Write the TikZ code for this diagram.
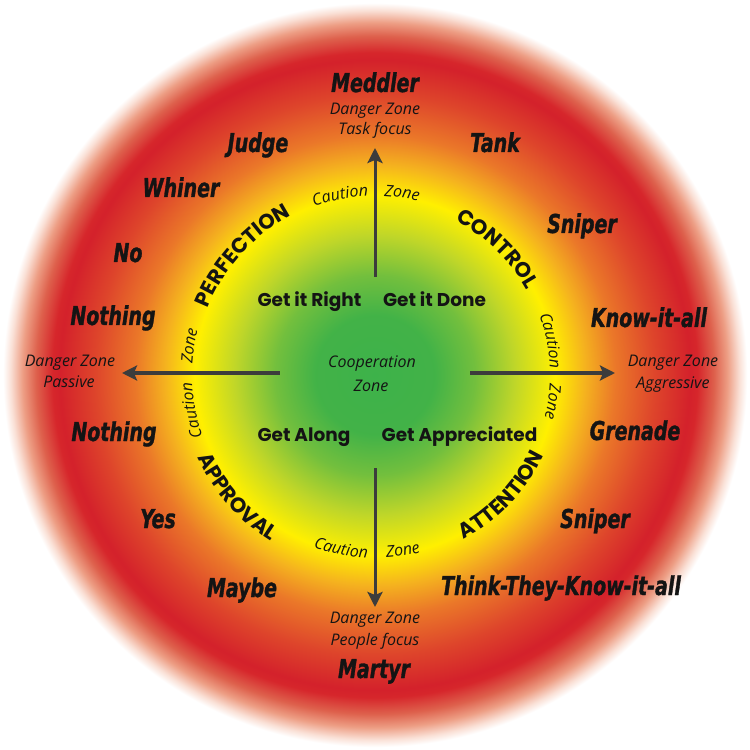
\documentclass[tikz,border=0pt]{standalone}
\usepackage{fontspec}
\usetikzlibrary{arrows.meta,decorations.text}
\newfontfamily\labfont{DejaVu Sans}[FakeStretch=0.73,BoldItalicFeatures={FakeBold=1.2}]
\newfontfamily\popfont{Poppins}
\newfontfamily\gillfont{Open Sans}
\definecolor{txt}{RGB}{20,20,20}
\definecolor{arrowgray}{RGB}{60,60,60}
\newcommand\arcfont{\popfont\bfseries\fontsize{21bp}{21bp}\selectfont}
\newcommand\cfont{\gillfont\itshape\fontsize{16bp}{16bp}\selectfont}
\pgfdeclareradialshading{zones}{\pgfpointorigin}{%
 rgb(0bp)=(0.24,0.70,0.29);
 rgb(4bp)=(0.26,0.70,0.28);
 rgb(6.667bp)=(0.45,0.75,0.24);
 rgb(9.333bp)=(0.75,0.84,0.16);
 rgb(12bp)=(1.0,0.94,0.0);
 rgb(14bp)=(0.96,0.70,0.12);
 rgb(16bp)=(0.92,0.47,0.16);
 rgb(18.667bp)=(0.87,0.27,0.17);
 rgb(21bp)=(0.83,0.13,0.17);
 rgb(21.5bp)=(0.84,0.15,0.17);
 rgb(22.6bp)=(0.87,0.38,0.30);
 rgb(23.5bp)=(0.93,0.62,0.52);
 rgb(24.3bp)=(0.98,0.88,0.84);
 rgb(24.8bp)=(1,1,1);
 rgb(50bp)=(1,1,1)}
\tikzset{
 typelbl/.style={font=\labfont\bfseries\itshape\fontsize{26bp}{26bp}\selectfont, text=txt, anchor=base, inner sep=0pt},
 innerlbl/.style={font=\popfont\bfseries\fontsize{18.5bp}{18.5bp}\selectfont, text=txt, anchor=base, inner sep=0pt},
 smalllbl/.style={font=\cfont, text=txt, anchor=base, inner sep=0pt},
 axisarrow/.style={draw=arrowgray, line width=3bp, -{Stealth[length=15bp,width=15bp,inset=3bp]}},
 arctext/.style={decorate, decoration={text along path, text align=center, text color=txt, text={#1}}}
}
\begin{document}
\begin{tikzpicture}[x=1bp,y=1bp]
\useasboundingbox (-375,-375) rectangle (375,375);
\fill[white] (-375,-375) rectangle (375,375);
\shade[shading=zones] (0,0) circle[radius=375bp];

% axes
\coordinate (topS) at (0,98); \coordinate (topE) at (0,227);
\coordinate (leftS) at (-95,2); \coordinate (leftE) at (-253,2);
\coordinate (rightS) at (95,2); \coordinate (rightE) at (240,2);
\coordinate (botS) at (0,-93); \coordinate (botE) at (0,-232);
\draw[axisarrow] (topS) -- (topE);
\draw[axisarrow] (leftS) -- (leftE);
\draw[axisarrow] (rightS) -- (rightE);
\draw[axisarrow] (botS) -- (botE);

% curved style labels
\path[arctext={|\arcfont|PERFECTION}] (160:180bp) arc[start angle=160, end angle=116, radius=180bp];
\path[arctext={|\arcfont|CONTROL}] (70:174bp) arc[start angle=70, end angle=22, radius=174bp];
\path[arctext={|\arcfont|APPROVAL}] (199:196bp) arc[start angle=199, end angle=244, radius=196bp];
\path[arctext={|\arcfont|ATTENTION}] (294:187bp) arc[start angle=294, end angle=339, radius=187bp];

% caution zone labels
\path[arctext={|\cfont|Caution}] (115:179bp) arc[start angle=115, end angle=87, radius=179bp];
\path[arctext={|\cfont|Zone}] (95:179bp) arc[start angle=95, end angle=68, radius=179bp];
\path[arctext={|\cfont|Caution}] (25:175bp) arc[start angle=25, end angle=-3, radius=175bp];
\path[arctext={|\cfont|Zone}] (5:175bp) arc[start angle=5, end angle=-22, radius=175bp];
\path[arctext={|\cfont|Zone}] (185:183bp) arc[start angle=185, end angle=157, radius=183bp];
\path[arctext={|\cfont|Caution}] (205:183bp) arc[start angle=205, end angle=177, radius=183bp];
\path[arctext={|\cfont|Caution}] (245:183bp) arc[start angle=245, end angle=273, radius=183bp];
\path[arctext={|\cfont|Zone}] (265:183bp) arc[start angle=265, end angle=293, radius=183bp];

% inner labels
\node[innerlbl] (right) at (-65.5,68) {Get it Right};
\node[innerlbl] (done) at (59.5,68) {Get it Done};
\node[innerlbl] (along) at (-71,-66) {Get Along};
\node[innerlbl] (appr) at (84.5,-66) {Get Appreciated};
\node[smalllbl] (coop) at (-3,7) {Cooperation};
\node[smalllbl] (coopz) at (-4,-16) {Zone};

% danger zone labels
\node[smalllbl] (dzt) at (0,260) {Danger Zone};
\node[smalllbl] (dzt2) at (0,240) {Task focus};
\node[smalllbl] (dzb) at (0,-248) {Danger Zone};
\node[smalllbl] (dzb2) at (0,-270) {People focus};
\node[smalllbl] (dzl) at (-305,8) {Danger Zone};
\node[smalllbl] (dzl2) at (-306,-12) {Passive};
\node[smalllbl] (dzr) at (298,8) {Danger Zone};
\node[smalllbl] (dzr2) at (298,-13) {Aggressive};

% difficult types
\node[typelbl] (meddler) at (0,283) {Meddler};
\node[typelbl] (judge) at (-117,223) {Judge};
\node[typelbl] (tank) at (120,223) {Tank};
\node[typelbl] (whiner) at (-194,178) {Whiner};
\node[typelbl] (sniper1) at (207,142) {Sniper};
\node[typelbl] (no) at (-247,113) {No};
\node[typelbl] (nothing1) at (-262,50) {Nothing};
\node[typelbl] (know) at (274,48) {Know-it-all};
\node[typelbl] (nothing2) at (-261,-66) {Nothing};
\node[typelbl] (grenade) at (260,-65) {Grenade};
\node[typelbl] (yes) at (-217,-153) {Yes};
\node[typelbl] (sniper2) at (220,-153) {Sniper};
\node[typelbl] (maybe) at (-133,-222) {Maybe};
\node[typelbl] (think) at (186,-220) {Think-They-Know-it-all};
\node[typelbl] (martyr) at (-1,-303) {Martyr};
\end{tikzpicture}
\end{document}
